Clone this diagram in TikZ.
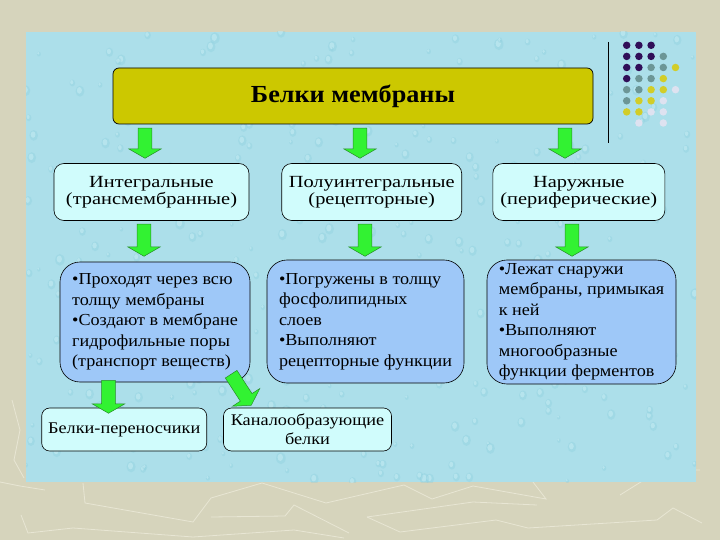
\documentclass[tikz,border=0pt]{standalone}
\usepackage{fontspec}
\setmainfont{Liberation Serif}[FakeStretch=1.12]
\newfontfamily\catfont{Liberation Serif}[FakeStretch=1.2]
\newfontfamily\bodyfont{Liberation Serif}[FakeStretch=1.08]
\newfontfamily\titlefont{Liberation Serif}[FakeStretch=1.07]
\usetikzlibrary{shapes.arrows}
\definecolor{bgbeige}{RGB}{214,212,188}
\definecolor{bgline}{RGB}{232,230,212}
\definecolor{panel}{RGB}{172,223,234}
\definecolor{droplight}{RGB}{205,240,246}
\definecolor{dropdark}{RGB}{140,206,222}
\definecolor{titlefill}{RGB}{204,200,0}
\definecolor{catfill}{RGB}{208,252,252}
\definecolor{bodyfill}{RGB}{158,200,248}
\definecolor{agreen}{RGB}{50,242,50}
\definecolor{agreendark}{RGB}{40,140,40}
\definecolor{dpurple}{RGB}{48,14,88}
\definecolor{dteal}{RGB}{108,150,150}
\definecolor{dyellow}{RGB}{210,205,40}
\definecolor{dlight}{RGB}{222,226,240}
\tikzset{
  titlebox/.style={draw=black, line width=0.7pt, fill=titlefill, rounded corners=6pt,
    minimum width=480pt, minimum height=56pt, inner sep=0pt,
    font=\titlefont\bfseries\fontsize{24.5}{26}\selectfont},
  catbox/.style={draw=black, line width=0.6pt, fill=catfill, rounded corners=10pt,
    minimum height=57pt, inner sep=0pt, align=center,
    font=\catfont\fontsize{17}{17.5}\selectfont},
  bodybox/.style={draw=black, line width=0.6pt, fill=bodyfill, rounded corners=20pt,
    inner sep=0pt, align=left, font=\bodyfont\fontsize{16.8}{20.5}\selectfont},
  lowbox/.style={draw=black, line width=0.6pt, fill=catfill, rounded corners=8pt,
    minimum height=43pt, inner sep=0pt, align=center,
    font=\fontsize{16.3}{19}\selectfont},
  garrow/.style={single arrow, draw=agreendark, fill=agreen, line width=0.5pt,
    inner xsep=0pt, inner ysep=6.7pt, single arrow head extend=9.3pt,
    single arrow tip angle=120, anchor=tail},
  dot/.style={circle, inner sep=0pt, minimum size=7.5pt}
}
\begin{document}
\begin{tikzpicture}[x=1pt, y=-1pt]
% slide background
\fill[bgbeige] (0,0) rectangle (720,540);
\useasboundingbox (0,0) rectangle (720,540);
% faint decorative lines
\begin{scope}[bgline, line width=0.8pt]
\draw (83,483) -- (85,503) -- (193,522) -- (211,498) -- (262,483) -- (326,503) -- (404,485) -- (432,499) -- (473,486) -- (546,499) -- (533,482);
\draw (367,517) -- (473,502) -- (537,505);
\draw (367,517) -- (400,532) -- (496,520) -- (528,528) -- (657,520) -- (673,508) -- (702,523);
\draw (21,515) -- (28,533) -- (73,528) -- (193,537) -- (294,530) -- (344,538);
\draw (211,517) -- (285,516) -- (294,505) -- (349,533);
\draw (0,482) -- (20,486) -- (45,490);
\draw (620,495) -- (660,470) -- (700,470);
\draw (12,400) -- (20,430) -- (14,460) -- (24,478);
\end{scope}
% panel with water-drop texture
\fill[panel] (26,32) rectangle (696,482);
\begin{scope}
\clip (26,32) rectangle (696,482);
\pgfmathsetseed{7}
\foreach \i in {1,...,420} {
  \pgfmathsetmacro{\px}{26+670*rnd}
  \pgfmathsetmacro{\py}{32+450*rnd}
  \pgfmathsetmacro{\pr}{2+4*rnd}
  \fill[dropdark, opacity=0.35] (\px,\py) ellipse ({\pr*0.8} and \pr);
  \fill[droplight, opacity=0.5] ({\px-0.6},{\py-0.8}) ellipse ({\pr*0.45} and {\pr*0.6});
}
\end{scope}
% corner ornament
\draw[black, line width=0.8pt] (608,42) -- (608,143);
\foreach \c/\x/\y in {
  dpurple/0/0, dpurple/1/0, dpurple/2/0,
  dpurple/0/1, dpurple/1/1, dpurple/2/1, dteal/3/1,
  dpurple/0/2, dpurple/1/2, dteal/2/2, dteal/3/2, dyellow/4/2,
  dpurple/0/3, dteal/1/3, dteal/2/3, dyellow/3/3,
  dteal/0/4, dteal/1/4, dyellow/2/4, dyellow/3/4, dlight/4/4,
  dteal/0/5, dyellow/1/5, dyellow/2/5, dlight/3/5,
  dyellow/0/6, dyellow/1/6, dlight/2/6, dlight/3/6,
  dlight/1/7, dlight/3/7}
  \node[dot, fill=\c] (dot-\x-\y) at ({626.7+12.2*\x},{45.3+11.1*\y}) {};
% title
\node[titlebox] (title) at (353,96) {Белки мембраны};
% categories
\node[catbox, minimum width=195pt] (cat1) at (151.5,192) {Интегральные\\(трансмембранные)};
\node[catbox, minimum width=180pt] (cat2) at (371.7,192) {Полуинтегральные\\(рецепторные)};
\node[catbox, minimum width=172pt] (cat3) at (578.8,192) {Наружные\\(периферические)};
% descriptions
\node[bodybox, minimum width=190pt, minimum height=120pt] (body1) at (155,322)
  {•Проходят через всю\\толщу мембраны\\•Создают в мембране\\гидрофильные поры\\(транспорт веществ)};
\node[bodybox, minimum width=197pt, minimum height=123pt] (body2) at (365.5,321.5)
  {•Погружены в толщу\\фосфолипидных\\слоев\\•Выполняют\\рецепторные функции};
\node[bodybox, minimum width=189pt, minimum height=124pt] (body3) at (581.5,322)
  {•Лежат снаружи\\мембраны, примыкая\\к ней\\•Выполняют\\многообразные\\функции ферментов};
% lower boxes
\node[lowbox, minimum width=165pt] (low1) at (124.2,429.5) {Белки-переносчики};
\node[lowbox, minimum width=168pt] (low2) at (307.5,429.5) {Каналообразующие\\белки};
% arrows
\node[garrow, minimum height=30pt, rotate=-90] (a1) at (145,128) {};
\node[garrow, minimum height=30pt, rotate=-90] (a2) at (360,128) {};
\node[garrow, minimum height=30pt, rotate=-90] (a3) at (565,128) {};
\node[garrow, minimum height=32pt, rotate=-90] (b1) at (144,224) {};
\node[garrow, minimum height=32pt, rotate=-90] (b2) at (365,224) {};
\node[garrow, minimum height=32pt, rotate=-90] (b3) at (572,224) {};
\node[garrow, minimum height=33pt, rotate=-90] (c1) at (108.5,380) {};
\node[garrow, minimum height=37pt, rotate=-57] (c2) at (231,374) {};
\end{tikzpicture}
\end{document}
